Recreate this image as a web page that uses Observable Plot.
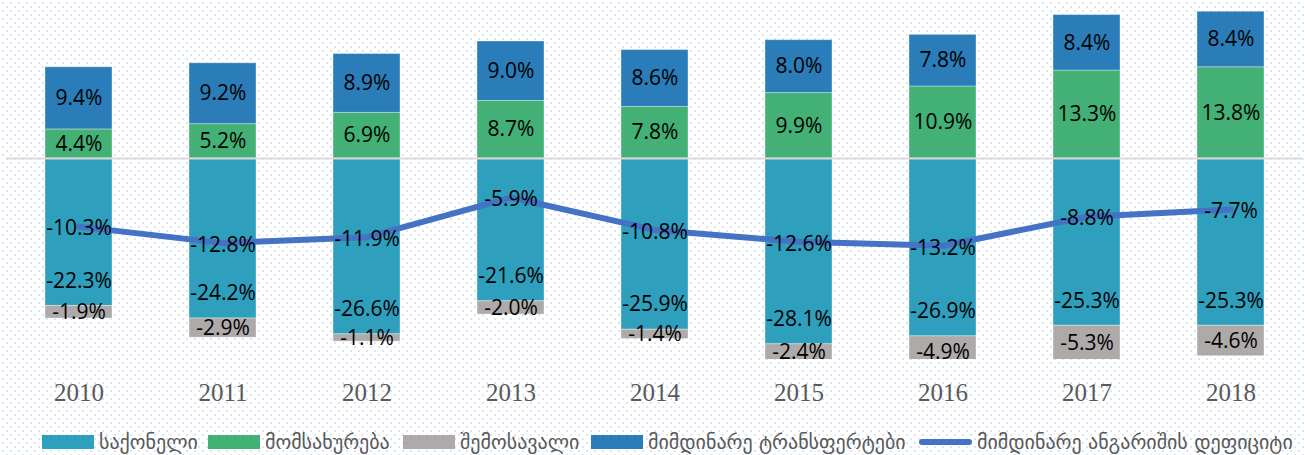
<!DOCTYPE html>
<html>
<head>
<meta charset="utf-8">
<script src="https://cdn.jsdelivr.net/npm/d3@7"></script>
<script src="https://cdn.jsdelivr.net/npm/@observablehq/plot@0.6"></script>
<style>
  html, body { margin: 0; padding: 0; }
  body {
    width: 1304px; height: 455px; overflow: hidden; position: relative;
    background-color: #ffffff;
    background-image: url("data:image/svg+xml,%3Csvg xmlns='http://www.w3.org/2000/svg' width='8' height='8'%3E%3Crect x='2' y='2' width='2' height='2' fill='%23dbe5f2'/%3E%3Crect x='6' y='6' width='2' height='2' fill='%23dbe5f2'/%3E%3C/svg%3E");
  }
  #chart { position: absolute; left: 0; top: 0; }
  #legend { position: absolute; left: 0; top: 420px; width: 1304px; height: 35px; overflow: hidden; white-space: nowrap;
    font-family: "DejaVu Sans", sans-serif; font-size: 20px; color: #595959; }
  .item { position: absolute; top: 4px; height: 35px; display: flex; align-items: center; }
  .sw { width: 52px; height: 14px; margin-right: 5px; }
  .ln { width: 53px; height: 6px; border-radius: 3px; margin-right: 5px; }
</style>
</head>
<body>
<div id="chart"></div>
<div id="legend"></div>
<script>
const years = ["2010","2011","2012","2013","2014","2015","2016","2017","2018"];
const goods = [-22.3, -24.2, -26.6, -21.6, -25.9, -28.1, -26.9, -25.3, -25.3];
const services = [4.4, 5.2, 6.9, 8.7, 7.8, 9.9, 10.9, 13.3, 13.8];
const income = [-1.9, -2.9, -1.1, -2.0, -1.4, -2.4, -4.9, -5.3, -4.6];
const transfers = [9.4, 9.2, 8.9, 9.0, 8.6, 8.0, 7.8, 8.4, 8.4];
const deficit = [-10.3, -12.8, -11.9, -5.9, -10.8, -12.6, -13.2, -8.8, -7.7];
const seriesNames = ["საქონელი", "მომსახურება", "შემოსავალი", "მიმდინარე ტრანსფერტები"];
const lineName = "მიმდინარე ანგარიშის დეფიციტი";
const seriesColors = ["#2e9fbd", "#43b075", "#aeaaaa", "#2a7db8"];
const lineColor = "#4472c4";

const yMin = -30.4, yMax = 23.9;
const seriesValues = [goods, services, income, transfers];

// stacked segments (positive and negative stacked separately)
const segs = [];
years.forEach((yr, i) => {
  let pos = 0, neg = 0;
  seriesValues.forEach((vals, s) => {
    const v = vals[i];
    let y1, y2;
    if (v >= 0) { y1 = pos; y2 = pos + v; pos = y2; }
    else { y1 = neg; y2 = neg + v; neg = y2; }
    segs.push({year: yr, series: seriesNames[s], idx: s, value: v, y1, y2, mid: (y1 + y2) / 2});
  });
});
const goodsSegs = segs.filter(d => d.idx === 0);
const otherSegs = segs.filter(d => d.idx !== 0);
const lineData = years.map((yr, i) => ({year: yr, value: deficit[i]}));
const fmt = v => v.toFixed(1) + "%";
const labelFont = "'Open Sans', 'Noto Sans', sans-serif";

const plot = Plot.plot({
  width: 1304,
  height: 420,
  marginTop: 0,
  marginBottom: 61,
  marginLeft: 6,
  marginRight: 2,
  style: {background: "transparent", overflow: "visible"},
  x: {domain: years, paddingInner: 0.535, paddingOuter: 0.2675, label: null, tickSize: 0, tickPadding: 24},
  y: {domain: [yMin, yMax], axis: null},
  color: {domain: seriesNames, range: seriesColors},
  marks: [
    Plot.barY(segs, {x: "year", y1: "y1", y2: "y2", fill: "series", stroke: "#ffffff", strokeOpacity: 0.35, strokeWidth: 1, clip: true}),
    Plot.ruleY([0], {stroke: "#d9d9d9", strokeWidth: 2}),
    Plot.text(otherSegs, {x: "year", y: "mid", text: d => fmt(d.value), fill: "#000", fontSize: 21, fontFamily: labelFont}),
    Plot.text(goodsSegs, {x: "year", y: "y2", dy: -25, text: d => fmt(d.value), fill: "#000", fontSize: 21, fontFamily: labelFont}),
    Plot.line(lineData, {x: "year", y: "value", stroke: lineColor, strokeWidth: 6, strokeLinejoin: "round", strokeLinecap: "round"}),
    Plot.text(lineData, {x: "year", y: "value", text: d => fmt(d.value), dy: 2, fill: "#000", fontSize: 21, fontFamily: labelFont}),
    Plot.axisX({tickSize: 0, tickPadding: 24, fontSize: 25, fontFamily: "'Liberation Serif', serif", color: "#595959", label: null})
  ]
});
document.getElementById("chart").appendChild(plot);

// legend
const legend = document.getElementById("legend");
const lefts = [42, 208, 403, 591, 919];
const items = seriesNames.map((n, i) => ({name: n, color: seriesColors[i], line: false}))
  .concat([{name: lineName, color: lineColor, line: true}]);
items.forEach((it, i) => {
  const div = document.createElement("div");
  div.className = "item";
  div.style.left = lefts[i] + "px";
  const sw = document.createElement("span");
  sw.className = it.line ? "ln" : "sw";
  sw.style.background = it.color;
  const tx = document.createElement("span");
  tx.textContent = it.name;
  div.appendChild(sw); div.appendChild(tx);
  legend.appendChild(div);
});
</script>
</body>
</html>
